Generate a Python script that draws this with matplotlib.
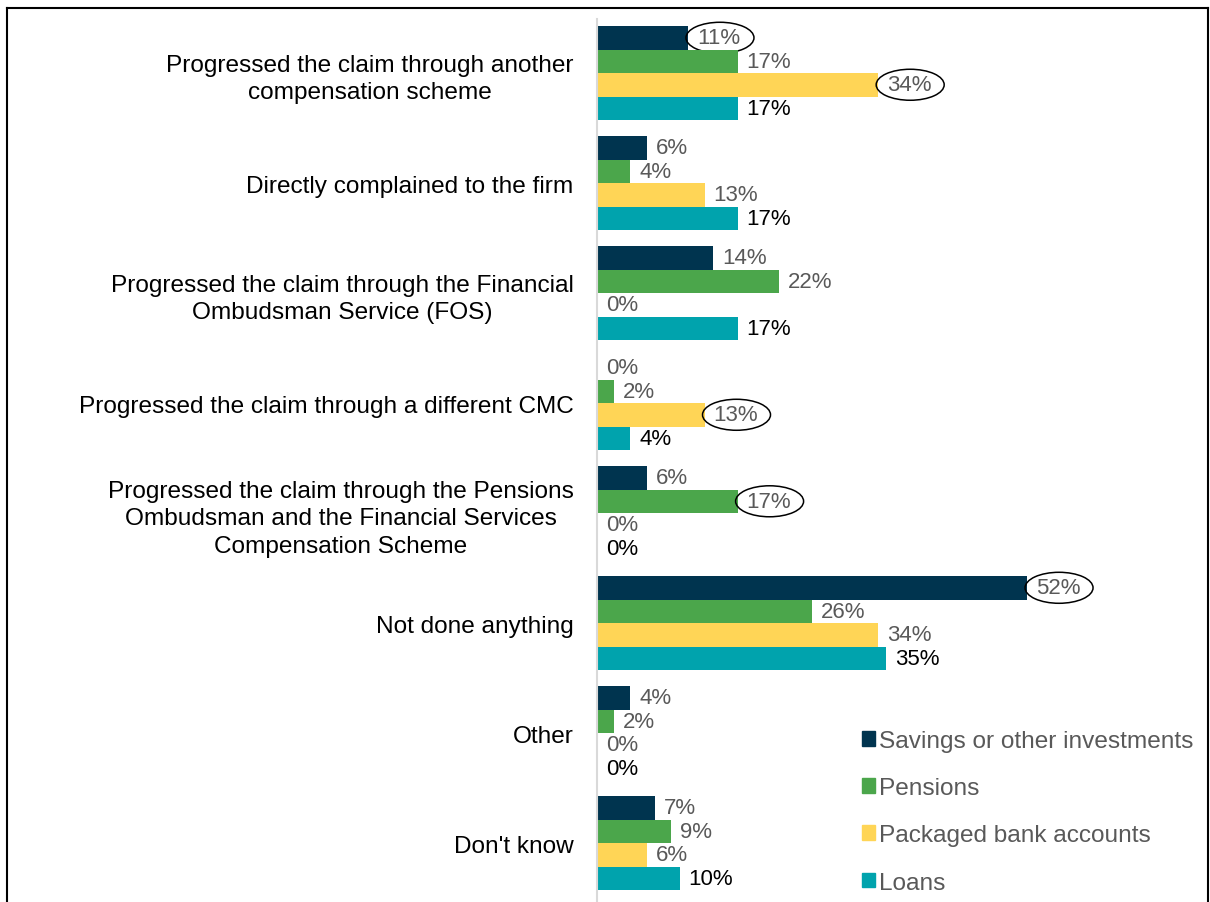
import matplotlib.pyplot as plt
from matplotlib.patches import Patch, Ellipse
from matplotlib.lines import Line2D

plt.rcParams['font.family'] = ['Liberation Sans', 'DejaVu Sans']

# categories top to bottom
categories = [
    'Progressed the claim through another\ncompensation scheme',
    'Directly complained to the firm',
    'Progressed the claim through the Financial\nOmbudsman Service (FOS)',
    'Progressed the claim through a different CMC',
    'Progressed the claim through the Pensions\nOmbudsman and the Financial Services\nCompensation Scheme',
    'Not done anything',
    'Other',
    "Don't know",
]
series_names = ['Savings or other investments', 'Pensions', 'Packaged bank accounts', 'Loans']
savings = [11, 6, 14, 0, 6, 52, 4, 7]
pensions = [17, 4, 22, 2, 17, 26, 2, 9]
packaged = [34, 13, 0, 13, 0, 34, 0, 6]
loans = [17, 17, 17, 4, 0, 35, 0, 10]
# (category index, series index) of the values that are circled
circled = [(0, 0), (0, 2), (3, 2), (4, 1), (5, 0)]

colors = ['#00344F', '#4BA64B', '#FFD556', '#00A3AD']
label_colors = ['#595959', '#595959', '#595959', '#000000']

W, H = 1210, 903
px_per_pct = 8.27      # horizontal pixels per percentage point
px_per_cat = 110       # vertical pixels per category

fig = plt.figure(figsize=(W / 100, H / 100), dpi=100)
ax = fig.add_axes([597 / W, 0, 603 / W, 883 / H])

bar_h = 0.2136
all_values = [savings, pensions, packaged, loans]
for j, vals in enumerate(all_values):
    ys = [i + (j - 1.5) * bar_h for i in range(len(categories))]
    ax.barh(ys, vals, height=bar_h, color=colors[j], label=series_names[j])
    for i, (y, v) in enumerate(zip(ys, vals)):
        ax.annotate(f'{v}%', (v, y), xytext=(6.5, 0), textcoords='offset points',
                    va='center', ha='left', fontsize=16, color=label_colors[j])
        if (i, j) in circled:
            ax.add_patch(Ellipse((v + 32 / px_per_pct, y), 68 / px_per_pct, 31 / px_per_cat,
                                 fc='none', ec='black', lw=1.1, clip_on=False))

ax.set_xlim(0, 603 / px_per_pct)
ax.set_ylim(7.536, -0.491)
ax.set_yticks(range(len(categories)))
ax.set_yticklabels(categories, fontsize=17.6)
for t in ax.get_yticklabels():
    t.set_multialignment('center')
    t.set_linespacing(1.32)
ax.tick_params(axis='y', length=0, pad=17)
ax.set_xticks([])
for s in ['top', 'right', 'bottom']:
    ax.spines[s].set_visible(False)
ax.spines['left'].set_color('#D9D9D9')
ax.spines['left'].set_linewidth(1.5)

handles = [Patch(color=c) for c in colors]
fig.legend(handles, series_names, loc='upper left',
           bbox_to_anchor=(862 / W, 1 - 731 / H), frameon=False,
           fontsize=17.6, labelcolor='#595959', handlelength=0.53, handleheight=0.53,
           handletextpad=0.15, labelspacing=1.03, borderpad=0, borderaxespad=0)

# outer frame of the chart area
frame_kw = dict(color='black', lw=1.5, transform=fig.transFigure)
fig.add_artist(Line2D([7 / W, 1208 / W], [1 - 9 / H] * 2, **frame_kw))
fig.add_artist(Line2D([7 / W] * 2, [0, 1 - 9 / H], **frame_kw))
fig.add_artist(Line2D([1208 / W] * 2, [0, 1 - 9 / H], **frame_kw))

fig.savefig('out.png', dpi=100)
